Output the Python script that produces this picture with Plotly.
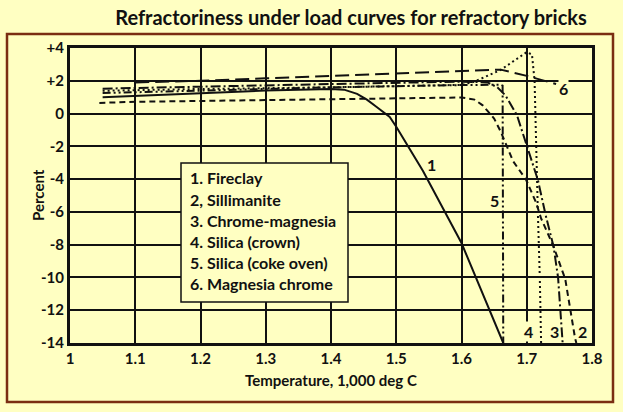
import plotly.graph_objects as go

# ---------------- data ----------------
fireclay_x = [1.05, 1.1, 1.2, 1.3, 1.4, 1.42, 1.44, 1.455, 1.47, 1.49, 1.5, 1.541, 1.6, 1.664]
fireclay_y = [1.0, 1.08, 1.25, 1.4, 1.5, 1.46, 1.2, 0.85, 0.4, -0.2, -0.8, -3.5, -7.9, -14.0]

sillimanite_x = [1.045, 1.1, 1.2, 1.3, 1.4, 1.5, 1.6, 1.62, 1.6325, 1.65, 1.66, 1.679, 1.699, 1.714, 1.722, 1.741, 1.759, 1.774, 1.776]
sillimanite_y = [0.65, 0.72, 0.77, 0.82, 0.86, 0.92, 0.98, 0.85, 0.5, -0.3, -1.1, -2.9, -4.04, -5.4, -6.4, -8.1, -10.1, -13.7, -14.0]

chromemag_x = [1.05, 1.2, 1.4, 1.6, 1.64, 1.655, 1.6675, 1.685, 1.695, 1.7, 1.717, 1.729, 1.741, 1.748, 1.752, 1.755]
chromemag_y = [1.52, 1.65, 1.8, 1.95, 1.9, 1.6, 1.1, -0.1, -1.3, -2.0, -4.04, -6.2, -8.1, -10.0, -12.0, -14.0]

silica_crown_x = [1.05, 1.2, 1.4, 1.6, 1.62, 1.66, 1.70, 1.708, 1.712, 1.714, 1.717, 1.72, 1.722]
silica_crown_y = [1.39, 1.5, 1.6, 1.75, 1.95, 2.66, 3.75, 3.6, 2.0, -2.0, -6.0, -10.0, -14.0]

silica_coke_x = [1.05, 1.2, 1.4, 1.6, 1.66, 1.663, 1.664]
silica_coke_y = [1.25, 1.4, 1.6, 1.74, 1.76, 1.7, -14.0]

magchrome_x = [1.1, 1.2, 1.3, 1.4, 1.5, 1.6, 1.66, 1.7, 1.745]
magchrome_y = [1.9, 2.0, 2.15, 2.3, 2.45, 2.6, 2.68, 2.3, 1.8]

curve_labels = ["1", "2", "3", "4", "5", "6"]
label_x = [1.554, 1.786, 1.742, 1.703, 1.651, 1.756]
label_y = [-3.1, -13.3, -13.3, -13.3, -5.3, 1.55]

legend_labels = ["1. Fireclay", "2, Sillimanite", "3. Chrome-magnesia",
                 "4. Silica (crown)", "5. Silica (coke oven)", "6. Magnesia chrome"]

x_ticks = [1.0, 1.1, 1.2, 1.3, 1.4, 1.5, 1.6, 1.7, 1.8]
x_ticktext = ["1", "1.1", "1.2", "1.3", "1.4", "1.5", "1.6", "1.7", "1.8"]
y_ticks = [4, 2, 0, -2, -4, -6, -8, -10, -12, -14]
y_ticktext = ["+4", "+2", "0", "-2", "-4", "-6", "-8", "-10", "-12", "-14"]

# ---------------- layout constants ----------------
W, H = 623, 412
L, R, T, B = 70, 31, 48, 69
BG = "#FFFFC2"
INK = "#111111"
FONT = "Lato"


def pxx(px):
    return (px - L) / (W - L - R)


def pxy(py):
    return 1 - (py - T) / (H - T - B)


fig = go.Figure()

series = [
    (fireclay_x, fireclay_y, "solid"),
    (sillimanite_x, sillimanite_y, "6px,4px"),
    (chromemag_x, chromemag_y, "10px,3px,2px,3px"),
    (silica_crown_x, silica_crown_y, "2px,3px"),
    (silica_coke_x, silica_coke_y, "8px,3px,2px,3px,2px,3px"),
    (magchrome_x, magchrome_y, "14px,6px"),
]
for (xs, ys, dash), name in zip(series, legend_labels):
    fig.add_trace(go.Scatter(x=xs, y=ys, mode="lines", name=name,
                             line=dict(color=INK, width=2, dash=dash),
                             showlegend=False, hoverinfo="skip"))

# curve number labels
for t, lx, ly in zip(curve_labels, label_x, label_y):
    fig.add_annotation(x=lx, y=ly, text=t, showarrow=False,
                       font=dict(family=FONT, size=16, color=INK, weight="bold"),
                       bgcolor=BG, borderpad=0)

# legend box
fig.add_shape(type="rect", xref="paper", yref="paper",
              x0=pxx(181), x1=pxx(348), y0=pxy(302), y1=pxy(163),
              fillcolor=BG, line=dict(color=INK, width=1.5), layer="above")
for i, t in enumerate(legend_labels):
    fig.add_annotation(xref="paper", yref="paper", x=pxx(188), y=pxy(178 + i * 21),
                       text=t, showarrow=False, xanchor="left", yanchor="middle",
                       font=dict(family=FONT, size=16, color=INK, weight="bold"))

# axis titles
fig.add_annotation(xref="paper", yref="paper", x=pxx(331), y=pxy(380),
                   text="Temperature, 1,000 deg C", showarrow=False,
                   xanchor="center", yanchor="middle",
                   font=dict(family=FONT, size=15, color=INK, weight="bold"))
fig.add_annotation(xref="paper", yref="paper", x=pxx(38), y=pxy(195),
                   text="Percent", showarrow=False, textangle=-90,
                   xanchor="center", yanchor="middle",
                   font=dict(family=FONT, size=15, color=INK, weight="bold"))

# outer brown frame
fig.add_shape(type="rect", xref="paper", yref="paper",
              x0=pxx(7), x1=pxx(613), y0=pxy(402), y1=pxy(34),
              line=dict(color="#7A2E12", width=2.5), layer="below")

fig.update_layout(
    width=W, height=H,
    margin=dict(l=L, r=R, t=T, b=B, pad=0, autoexpand=False),
    paper_bgcolor=BG, plot_bgcolor=BG,
    title=dict(text="Refractoriness under load curves for refractory bricks",
               x=pxx(351), xref="paper", xanchor="center", y=1 - 18 / H, yanchor="middle",
               font=dict(family=FONT, size=20, color=INK, weight="bold")),
    xaxis=dict(range=[1.0, 1.8], tickvals=x_ticks, ticktext=x_ticktext,
               showgrid=True, gridcolor=INK, gridwidth=2, automargin=False,
               showline=True, linecolor=INK, linewidth=3, mirror=True,
               zeroline=False, ticks="", ticklen=0,
               tickfont=dict(family=FONT, size=15, color=INK, weight="bold")),
    yaxis=dict(range=[-14, 4], tickvals=y_ticks, ticktext=y_ticktext,
               showgrid=True, gridcolor=INK, gridwidth=2, automargin=False,
               showline=True, linecolor=INK, linewidth=3, mirror=True,
               zeroline=False, ticks="", ticklen=0,
               tickfont=dict(family=FONT, size=15, color=INK, weight="bold")),
)

fig.write_html("out.html", config={"displayModeBar": False},
               post_script="document.body.style.margin='0';")
